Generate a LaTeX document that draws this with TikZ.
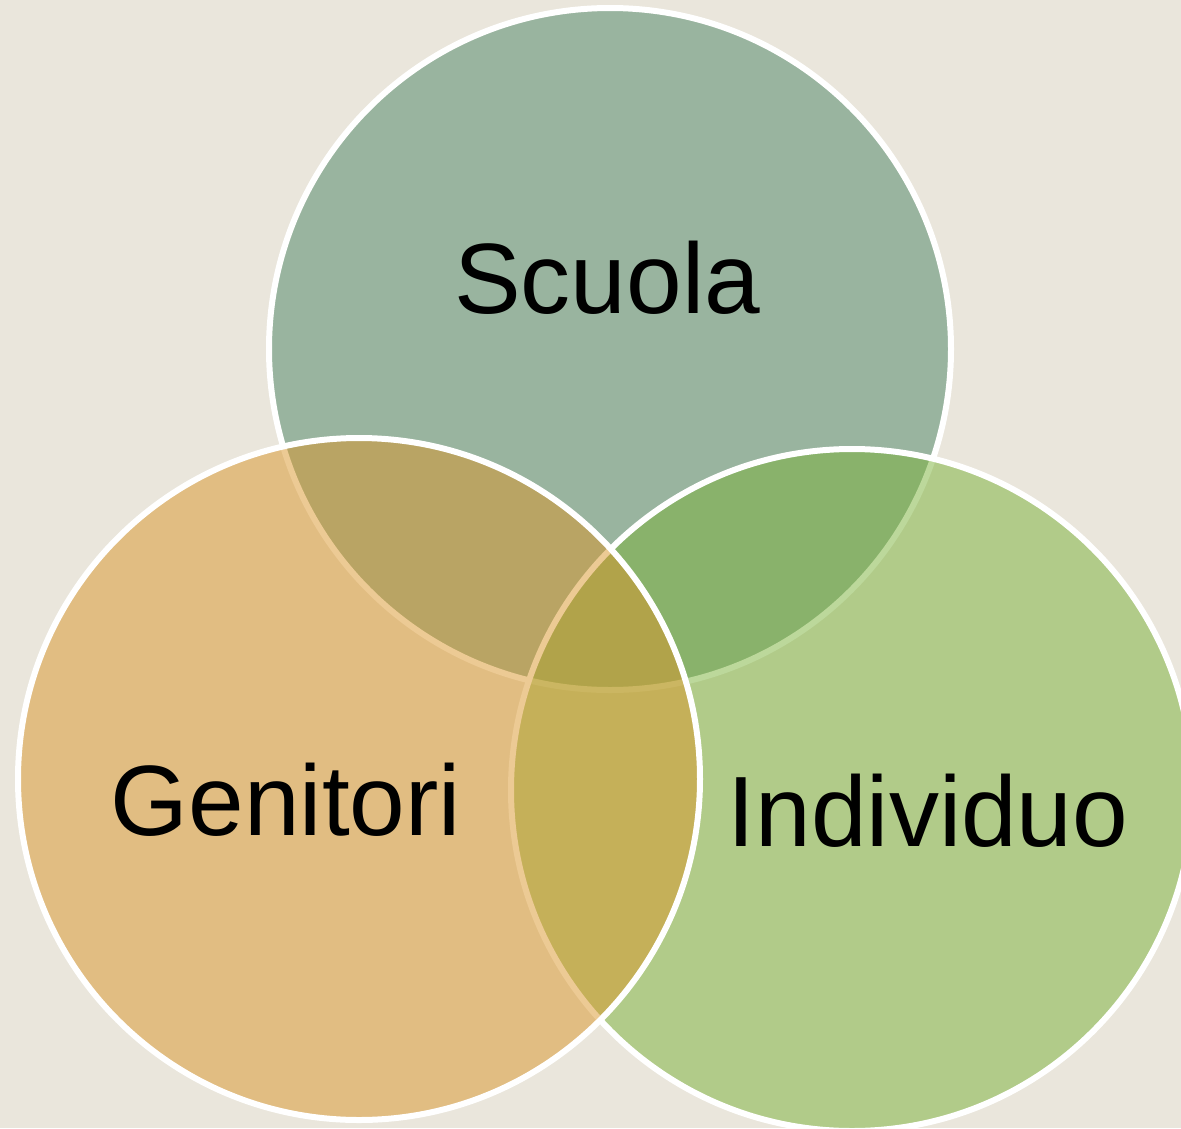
\documentclass[tikz,border=0pt]{standalone}
\usepackage{fontspec}
\setmainfont{Liberation Sans}
\definecolor{bgc}{RGB}{234,230,220}
\definecolor{scuolac}{RGB}{74,132,100}
\definecolor{indivc}{RGB}{122,178,56}
\definecolor{genitc}{RGB}{218,150,42}
\tikzset{
  venn/.style={circle, inner sep=0pt, outer sep=0pt, minimum size=682pt, draw=white, line width=6pt, fill opacity=0.5},
  lbl/.style={anchor=base, inner sep=0pt, text=black, font=\fontsize{100}{120}\selectfont}
}
\begin{document}
\begin{tikzpicture}[x=1pt,y=-1pt]
\fill[bgc] (0,0) rectangle (1181,1128);
\useasboundingbox (0,0) rectangle (1181,1128);
\clip (0,0) rectangle (1181,1128);
\node[venn, fill=scuolac] (scuola) at (610,349) {};
\node[venn, fill=indivc] (individuo) at (852,790) {};
\node[venn, fill=genitc] (genitori) at (359,779) {};
\node[lbl] (tscuola) at (607,313) {Scuola};
\node[lbl] (tgenitori) at (286,835) {Genitori};
\node[lbl] (tindividuo) at (928,846) {Individuo};
\end{tikzpicture}
\end{document}
